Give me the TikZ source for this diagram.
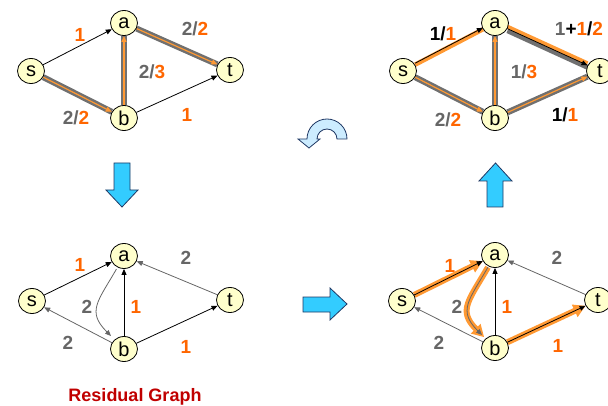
\documentclass[tikz,border=0pt]{standalone}
\usepackage{fontspec}
\setmainfont{Liberation Sans}
\usetikzlibrary{arrows.meta,backgrounds,shapes.geometric}
\definecolor{ylw}{RGB}{255,255,204}
\definecolor{org}{RGB}{255,102,0}
\definecolor{org2}{RGB}{255,153,51}
\definecolor{gry}{RGB}{102,102,102}
\definecolor{band}{RGB}{112,112,112}
\definecolor{sky}{RGB}{51,204,255}
\definecolor{pale}{RGB}{204,236,255}
\definecolor{navy}{RGB}{31,56,100}
\definecolor{dred}{RGB}{192,0,0}
\newcommand{\og}[1]{\textcolor{org}{#1}}
\newcommand{\gy}[1]{\textcolor{gry}{#1}}
\tikzset{
  vtx/.style={ellipse, draw, fill=ylw, line width=0.8pt, minimum width=27pt,
              minimum height=25pt, inner sep=0pt, font=\fontsize{20}{20}\selectfont},
  lbl/.style={inner sep=0pt, font=\fontsize{19}{19}\selectfont\bfseries},
  arr/.style={-{Triangle[length=6pt,width=5pt]}, line width=0.8pt},
  res/.style={arr, draw=gry},
  flow/.style={arr, draw=org2, line width=1.2pt,
               preaction={draw=band, line width=6pt, -}},
  aug/.style={-{Triangle[length=12pt,width=13pt]}, draw=org2, line width=6pt},
  blk/.style={draw=navy, fill=sky, line width=0.8pt},
}
\begin{document}
\begin{tikzpicture}[x=1pt,y=-1pt]
  \useasboundingbox (0,0) rectangle (608,406);

  % flow of 2 (top left)
  \node[vtx] (s1) at (31,71) {s};
  \node[vtx] (a1) at (124,23) {a};
  \node[vtx] (b1) at (124,118) {b};
  \node[vtx] (t1) at (230,70) {t};
  \begin{pgfonlayer}{background}
    \draw[arr] (s1) -- (a1);
    \draw[flow] (a1) -- (t1);
    \draw[flow] (b1) -- (a1);
    \draw[flow] (s1) -- (b1);
    \draw[arr] (b1) -- (t1);
  \end{pgfonlayer}
  \node[lbl] (c1sa) at (80,35) {\og{1}};
  \node[lbl] (c1at) at (195,29) {\gy{2/}\og{2}};
  \node[lbl] (c1ba) at (152,72) {\gy{2/}\og{3}};
  \node[lbl] (c1sb) at (76,118) {\gy{2/}\og{2}};
  \node[lbl] (c1bt) at (187,115) {\og{1}};

  % residual graph (bottom left)
  \node[vtx] (s2) at (32,301) {s};
  \node[vtx] (a2) at (124,256) {a};
  \node[vtx] (b2) at (124,349) {b};
  \node[vtx] (t2) at (230,300) {t};
  \begin{pgfonlayer}{background}
    \draw[arr] (s2) -- (a2);
    \draw[res] (t2) -- (a2);
    \draw[res, shorten <=2pt, shorten >=5pt] (a2.240) to[out=240, in=135, looseness=1.4] (b2.135);
    \draw[arr] (b2) -- (a2);
    \draw[res] (b2) -- (s2);
    \draw[arr] (b2) -- (t2);
  \end{pgfonlayer}
  \node[lbl] (c2sa) at (80,265) {\og{1}};
  \node[lbl] (c2ta) at (186,258) {\gy{2}};
  \node[lbl] (c2ab) at (87,307) {\gy{2}};
  \node[lbl] (c2ba) at (136,307) {\og{1}};
  \node[lbl] (c2bs) at (68,343) {\gy{2}};
  \node[lbl] (c2bt) at (186,347) {\og{1}};
  \node[lbl, text=dred, font=\fontsize{18}{18}\selectfont\bfseries] (title) at (135,397) {Residual Graph};

  % augmenting path (bottom right)
  \node[vtx] (s3) at (402,301) {s};
  \node[vtx] (a3) at (495,255) {a};
  \node[vtx] (b3) at (495,348) {b};
  \node[vtx] (t3) at (598,300) {t};
  \begin{pgfonlayer}{background}
    \draw[aug] (s3) -- (a3);
    \draw[aug, shorten <=1pt, shorten >=2pt] (a3.240) to[out=240, in=135, looseness=1.4] (b3.135);
    \draw[aug] (b3) -- (t3);
    \draw[arr] (s3) -- (a3);
    \draw[res] (t3) -- (a3);
    \draw[res, shorten <=1pt, shorten >=5pt] (a3.240) to[out=240, in=135, looseness=1.4] (b3.135);
    \draw[arr] (b3) -- (a3);
    \draw[res] (b3) -- (s3);
    \draw[arr] (b3) -- (t3);
  \end{pgfonlayer}
  \node[lbl] (c3sa) at (450,266) {\og{1}};
  \node[lbl] (c3ta) at (557,258) {\gy{2}};
  \node[lbl] (c3ab) at (457,307) {\gy{2}};
  \node[lbl] (c3ba) at (507,307) {\og{1}};
  \node[lbl] (c3bs) at (439,343) {\gy{2}};
  \node[lbl] (c3bt) at (558,346) {\og{1}};

  % new flow of 3 (top right)
  \node[vtx] (s4) at (403,71) {s};
  \node[vtx] (a4) at (495,23) {a};
  \node[vtx] (b4) at (495,118) {b};
  \node[vtx] (t4) at (600,71) {t};
  \begin{pgfonlayer}{background}
    \draw[draw=org2, line width=4.5pt] (s4) -- (a4);
    \draw[arr, transform canvas={yshift=1.5pt}] (s4) -- (a4);
    \draw[draw=band, line width=5pt, transform canvas={yshift=-2pt}] (a4) -- (t4);
    \draw[draw=org2, line width=4pt, transform canvas={yshift=2pt}] (a4) -- (t4);
    \draw[arr] (a4) -- (t4);
    \draw[flow] (b4) -- (a4);
    \draw[flow] (s4) -- (b4);
    \draw[flow] (b4) -- (t4);
  \end{pgfonlayer}
  \node[lbl] (c4sa) at (443,34) {1/\og{1}};
  \node[lbl] (c4at) at (579,29) {\gy{1}+\og{1}/\og{2}};
  \node[lbl] (c4ba) at (524,72) {\gy{1/}\og{3}};
  \node[lbl] (c4sb) at (448,120) {\gy{2/}\og{2}};
  \node[lbl] (c4bt) at (565,115) {1/\og{1}};

  % big arrows between the steps
  \draw[blk] (114,163) -- (130,163) -- (130,190) -- (138,190) -- (122,207)
    -- (106,190) -- (114,190) -- cycle;
  \draw[blk] (303,297) -- (330,297) -- (330,288) -- (347,304) -- (330,320)
    -- (330,312) -- (303,312) -- cycle;
  \draw[blk] (487,207) -- (503,207) -- (503,181) -- (512,181) -- (495.5,163)
    -- (479,181) -- (487,181) -- cycle;
  \draw[blk, fill=pale] (347,139) arc[start angle=0, end angle=-180, radius=20]
    -- (298,139) -- (309,148) -- (320,139) -- (317,139)
    arc[start angle=-180, end angle=0, radius=10] -- cycle;
\end{tikzpicture}
\end{document}
